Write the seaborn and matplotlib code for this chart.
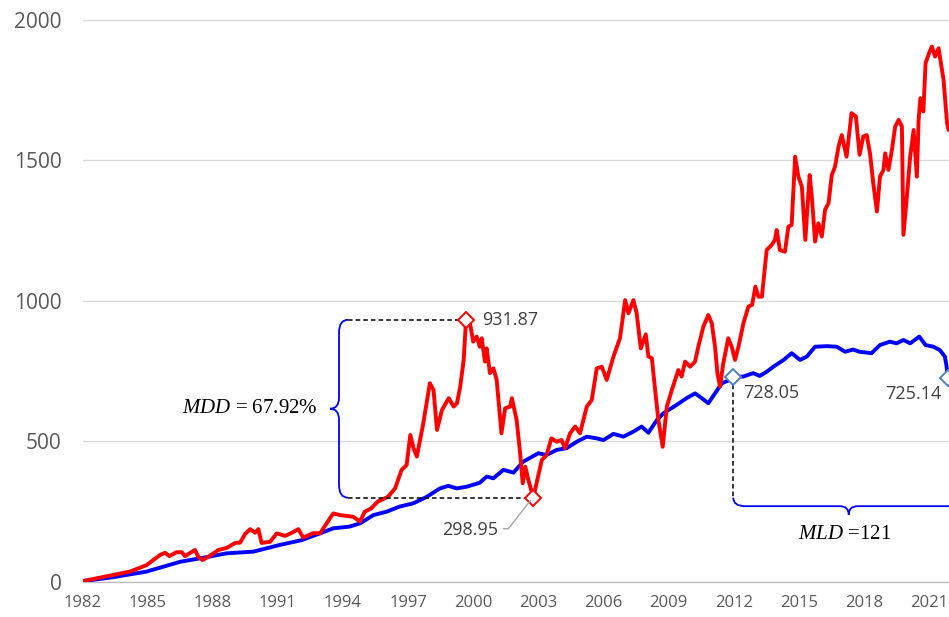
import numpy as np
import pandas as pd
import matplotlib
matplotlib.use("Agg")
import matplotlib.pyplot as plt
import seaborn as sns
from matplotlib.path import Path
from matplotlib.patches import PathPatch
from matplotlib.lines import Line2D
from matplotlib.transforms import IdentityTransform

# stock index (red)
stock_years = [1982.00, 1983.40, 1984.18, 1984.95, 1985.57, 1985.80, 1986.00, 1986.33, 1986.57, 1986.72,
               1987.18, 1987.33, 1987.53, 1987.80, 1988.26, 1988.64, 1989.03, 1989.26, 1989.49, 1989.72,
               1989.95, 1990.10, 1990.25, 1990.64, 1990.95, 1991.33, 1991.64, 1991.94, 1992.17, 1992.63,
               1992.94, 1993.55, 1993.86, 1994.17, 1994.47, 1994.78, 1995.00, 1995.30, 1995.60, 1996.07,
               1996.40, 1996.70, 1996.93, 1997.10, 1997.25, 1997.40, 1997.70, 1998.00, 1998.17, 1998.33,
               1998.56, 1998.87, 1999.10, 1999.25, 1999.40, 1999.56, 1999.67, 1999.85, 2000.00, 2000.16,
               2000.30, 2000.39, 2000.54, 2000.62, 2000.77, 2000.93, 2001.08, 2001.30, 2001.47, 2001.70,
               2001.78, 2002.00, 2002.16, 2002.28, 2002.40, 2002.54, 2002.77, 2002.95, 2003.16, 2003.38,
               2003.60, 2003.85, 2004.07, 2004.23, 2004.46, 2004.70, 2004.92, 2005.23, 2005.46, 2005.69,
               2005.92, 2006.15, 2006.46, 2006.76, 2007.00, 2007.15, 2007.38, 2007.53, 2007.72, 2007.95,
               2008.07, 2008.23, 2008.38, 2008.53, 2008.73, 2008.92, 2009.15, 2009.30, 2009.45, 2009.60,
               2009.76, 2009.99, 2010.22, 2010.37, 2010.60, 2010.83, 2010.99, 2011.14, 2011.25, 2011.37,
               2011.52, 2011.75, 2011.91, 2012.06, 2012.22, 2012.45, 2012.68, 2012.85, 2013.00, 2013.14,
               2013.30, 2013.52, 2013.75, 2013.90, 2013.98, 2014.13, 2014.36, 2014.52, 2014.67, 2014.83,
               2014.98, 2015.14, 2015.30, 2015.50, 2015.60, 2015.75, 2015.90, 2016.06, 2016.21, 2016.37,
               2016.52, 2016.67, 2016.83, 2016.98, 2017.20, 2017.43, 2017.63, 2017.80, 2017.97, 2018.13,
               2018.28, 2018.43, 2018.60, 2018.74, 2018.90, 2018.98, 2019.13, 2019.29, 2019.44, 2019.60,
               2019.75, 2019.82, 2019.98, 2020.13, 2020.29, 2020.44, 2020.52, 2020.60, 2020.74, 2020.84,
               2021.00, 2021.13, 2021.28, 2021.44, 2021.60, 2021.67, 2021.83, 2021.90]
stock_values = [2, 24, 36, 59, 95, 103, 91, 105, 105, 91,
                113, 89, 77, 89, 113, 120, 138, 139, 170, 187,
                174, 187, 138, 142, 172, 163, 174, 187, 157, 173,
                172, 243, 237, 234, 231, 214, 249, 261, 285, 302,
                332, 398, 415, 522, 475, 445, 564, 706, 682, 540,
                611, 653, 623, 635, 694, 789, 931.87, 920, 854, 872,
                836, 866, 783, 830, 742, 759, 718, 528, 617, 623,
                653, 575, 457, 350, 409, 362, 298.95, 362, 433, 451,
                510, 498, 504, 475, 528, 552, 528, 623, 646, 759,
                765, 718, 801, 866, 1002, 955, 1002, 955, 830, 880,
                801, 795, 682, 575, 480, 623, 682, 718, 753, 730,
                783, 765, 783, 836, 907, 949, 920, 836, 742, 694,
                777, 866, 836, 789, 836, 920, 979, 985, 1050, 1014,
                1014, 1180, 1198, 1216, 1251, 1180, 1174, 1263, 1269, 1512,
                1441, 1406, 1216, 1447, 1370, 1210, 1275, 1228, 1323, 1347,
                1447, 1477, 1548, 1589, 1512, 1667, 1655, 1519, 1584, 1589,
                1524, 1418, 1317, 1441, 1465, 1524, 1465, 1536, 1619, 1643,
                1619, 1234, 1370, 1512, 1607, 1441, 1643, 1720, 1673, 1845,
                1880, 1904, 1868, 1898, 1821, 1785, 1631, 1607]

# bond index (blue)
bond_years = [1982.00, 1983.40, 1984.95, 1986.50, 1987.40, 1988.64, 1989.87, 1991.10, 1992.10, 1992.94,
              1993.55, 1994.30, 1994.80, 1995.40, 1996.00, 1996.60, 1997.24, 1997.86, 1998.47, 1998.85,
              1999.24, 1999.70, 2000.30, 2000.62, 2000.93, 2001.39, 2001.85, 2002.30, 2003.00, 2003.38,
              2003.85, 2004.30, 2004.77, 2005.23, 2005.69, 2006.00, 2006.46, 2006.92, 2007.38, 2007.76,
              2008.07, 2008.46, 2008.76, 2009.37, 2009.83, 2010.22, 2010.53, 2010.83, 2011.14, 2011.45,
              2011.83, 2011.98, 2012.45, 2012.90, 2013.20, 2013.52, 2013.83, 2014.30, 2014.67, 2015.06,
              2015.37, 2015.75, 2016.30, 2016.75, 2017.13, 2017.50, 2017.80, 2018.35, 2018.74, 2019.20,
              2019.50, 2019.82, 2020.13, 2020.55, 2020.84, 2021.20, 2021.50, 2021.73, 2021.80, 2021.87]
bond_values = [2, 16, 36, 71, 83, 101, 107, 131, 148, 172,
               190, 196, 208, 237, 249, 267, 279, 302, 332, 341,
               332, 338, 352, 374, 368, 398, 388, 427, 457, 451,
               469, 475, 498, 516, 510, 504, 526, 516, 534, 552,
               530, 575, 599, 629, 653, 670, 653, 635, 670, 706,
               718, 728.05, 730, 742, 732, 747, 765, 789, 813, 789,
               801, 836, 838, 836, 818, 826, 818, 813, 842, 854,
               848, 860, 848, 872, 842, 836, 824, 801, 770, 725.14]

x_ticks = list(range(1982, 2022, 3))
y_ticks = [0, 500, 1000, 1500, 2000]

# marked points: stock peak / trough, bond high before the long drawdown / last value
stock_marks = [(1999.67, 931.87), (2002.77, 298.95)]
bond_marks = [(2011.98, 728.05), (2021.87, 725.14)]
mdd_text = "$\\it{MDD}$ = 67.92%"
mld_text = "$\\it{MLD}$ =121"

df = pd.concat([
    pd.DataFrame({"year": bond_years, "value": bond_values, "series": "bond"}),
    pd.DataFrame({"year": stock_years, "value": stock_values, "series": "stock"}),
])

sns.set_style("white")
plt.rcParams["mathtext.fontset"] = "custom"
plt.rcParams["mathtext.it"] = "Liberation Serif:italic"
plt.rcParams["mathtext.rm"] = "Liberation Serif"

fig = plt.figure(figsize=(9.49, 6.17), dpi=100)
ax = fig.add_axes([0.0870, 0.0572, 0.9130, 0.9248])

sns.lineplot(data=df, x="year", y="value", hue="series", hue_order=["bond", "stock"],
             palette={"bond": "#0000ff", "stock": "#ff0000"}, estimator=None, sort=False,
             lw=2.8, legend=False, ax=ax, zorder=3)

ax.set_xlabel("")
ax.set_ylabel("")
for s in ["top", "right", "left"]:
    ax.spines[s].set_visible(False)
ax.spines["bottom"].set_color("#bfbfbf")
ax.spines["bottom"].set_linewidth(1)
ax.spines["bottom"].set_zorder(2)
ax.yaxis.grid(True, color="#d9d9d9", lw=1)
ax.set_axisbelow(True)

ax.set_yticks(y_ticks)
ax.set_yticklabels([str(v) for v in y_ticks], fontfamily="Open Sans", fontsize=15, color="#595959")
ax.tick_params(axis="y", length=0, pad=15)
ax.set_xticks(x_ticks)
ax.set_xticklabels([str(v) for v in x_ticks], fontfamily="Open Sans", fontsize=12, color="#595959")
ax.set_xticks([t + 1.5 for t in x_ticks[:-1]], minor=True)
ax.tick_params(axis="x", which="both", length=3.6, width=1, color="#bfbfbf", direction="out", pad=6)
ax.set_xlim(1982, 2021.92)
ax.set_ylim(0, 2030)

# dashed guide lines
peak, trough = stock_marks
bhigh, blast = bond_marks
brace_x = 1994.23
ax.plot([brace_x, peak[0]], [peak[1], peak[1]], color="black", lw=1.1, dashes=(3, 2), zorder=4)
ax.plot([brace_x, trough[0]], [trough[1], trough[1]], color="black", lw=1.1, dashes=(3, 2), zorder=4)
ax.plot([bhigh[0], bhigh[0]], [bhigh[1], trough[1]], color="black", lw=1.1, dashes=(3, 2), zorder=4)

for px, py in stock_marks:
    ax.plot(px, py, marker="D", ms=8.2, mfc="white", mec="#ff0000", mew=1.4, ls="none", zorder=6, clip_on=False)
for px, py in bond_marks:
    ax.plot(px, py, marker="D", ms=8.2, mfc="white", mec="#4f81bd", mew=1.4, ls="none", zorder=6, clip_on=False)

num_kw = dict(textcoords="offset pixels", fontfamily="Open Sans", fontsize=13, color="#404040", va="center")
ax.annotate("931.87", xy=peak, xytext=(16, 0), ha="left", **num_kw)
ax.annotate("298.95", xy=trough, xytext=(-35, -32), ha="right", **num_kw)
ax.annotate("728.05", xy=bhigh, xytext=(10, -16), ha="left", **num_kw)
ax.annotate("725.14", xy=blast, xytext=(-6, -16), ha="right", **num_kw)

fig.canvas.draw()
T = ax.transData

# leader line for the trough label
tx, ty = T.transform(trough)
fig.add_artist(Line2D([tx - 30, tx - 25, tx - 3], [ty - 31, ty - 31, ty - 3], color="#a6a6a6", lw=1,
                      transform=IdentityTransform()))

M, C, L = Path.MOVETO, Path.CURVE3, Path.LINETO

# vertical brace for MDD
x0, yt = T.transform((brace_x, peak[1]))
_, yb = T.transform((brace_x, trough[1]))
ym = (yt + yb) / 2
xv, xt = x0 - 9, x0 - 18
r, rm = 13, 11
verts = [(x0, yt), (xv, yt), (xv, yt - r), (xv, ym + rm), (xv, ym), (xt, ym),
         (xv, ym), (xv, ym - rm), (xv, yb + r), (xv, yb), (x0, yb)]
codes = [M, C, C, L, C, C, C, C, L, C, C]
fig.add_artist(PathPatch(Path(verts, codes), fc="none", ec="#0000ff", lw=1.3, transform=IdentityTransform()))
fig.text(xt - 12, ym, mdd_text, transform=IdentityTransform(), ha="right", va="center",
         fontfamily="Liberation Serif", fontsize=15, color="black")

# horizontal brace for MLD
xl, y0 = T.transform((bhigh[0], trough[1]))
xr, _ = T.transform((blast[0] + 0.75, trough[1]))
xm = (xl + xr) / 2
yh, ytip = y0 - 8.5, y0 - 17
r, rm = 12, 9
verts = [(xl, y0), (xl, yh), (xl + r, yh), (xm - rm, yh), (xm, yh), (xm, ytip),
         (xm, yh), (xm + rm, yh), (xr - r, yh), (xr, yh), (xr, y0)]
fig.add_artist(PathPatch(Path(verts, codes), fc="none", ec="#0000ff", lw=1.3, transform=IdentityTransform()))
fig.text(xm - 4, ytip - 20, mld_text, transform=IdentityTransform(), ha="center", va="center",
         fontfamily="Liberation Serif", fontsize=15, color="black")

fig.savefig("out.png", dpi=100)
